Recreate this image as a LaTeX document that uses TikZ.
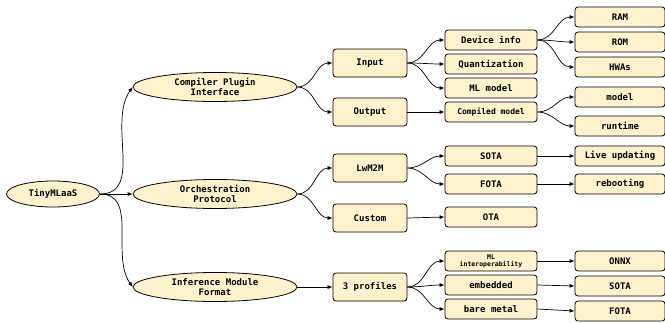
\documentclass[tikz,border=0pt]{standalone}
\usepackage{fontspec}
\setmonofont{DejaVu Sans Mono}
\usetikzlibrary{shapes.geometric,arrows.meta}
\definecolor{boxfill}{HTML}{FFF2CC}
\begin{document}
\begin{tikzpicture}[x=1pt,y=-1pt,
    >={Latex[length=5pt,width=4pt]},
    box/.style={draw, fill=boxfill, rounded corners=3pt, line width=0.8pt, inner sep=0pt,
      align=center, font=\ttfamily\bfseries\fontsize{9}{10}\selectfont},
    oval/.style={box, ellipse, minimum width=164pt, minimum height=29pt, rounded corners=0pt},
    midbox/.style={box, minimum width=74pt, minimum height=28pt},
    subbox/.style={box, minimum width=92pt, minimum height=20pt},
    leafbox/.style={box, minimum width=90pt, minimum height=20pt},
    link/.style={->, line width=0.7pt}]
\useasboundingbox (0,0) rectangle (665,322);

% root and the three parts
\node[oval, minimum width=93pt, minimum height=26pt] (tiny) at (53,194) {TinyMLaaS};
\node[oval] (cpi)  at (215,87)  {Compiler Plugin\\Interface};
\node[oval] (orch) at (215,194) {Orchestration\\Protocol};
\node[oval] (imf)  at (215,287) {Inference Module\\Format};

% second column
\node[midbox] (input)  at (370,63)  {Input};
\node[midbox] (output) at (370,112) {Output};
\node[midbox] (lwm)    at (370,168) {LwM2M};
\node[midbox] (custom) at (370,218) {Custom};
\node[midbox] (prof)   at (370,287) {3 profiles};

% third column
\node[subbox] (dev)   at (491,40)  {Device info};
\node[subbox] (quant) at (491,64)  {Quantization};
\node[subbox] (mlm)   at (491,88)  {ML model};
\node[subbox, font=\ttfamily\bfseries\fontsize{8}{9}\selectfont] (comp) at (491,112) {Compiled model};
\node[subbox] (sota)  at (491,156) {SOTA};
\node[subbox] (fota)  at (491,184) {FOTA};
\node[subbox] (ota)   at (491,217) {OTA};
\node[subbox, font=\ttfamily\bfseries\fontsize{6.5}{7}\selectfont] (mlio) at (491,261) {ML\\interoperability};
\node[subbox] (emb)   at (491,285) {embedded};
\node[subbox] (bare)  at (491,309) {bare metal};

% fourth column
\node[leafbox] (ram)    at (620,17)  {RAM};
\node[leafbox] (rom)    at (620,42)  {ROM};
\node[leafbox] (hwa)    at (620,67)  {HWAs};
\node[leafbox] (mdl)    at (620,97)  {model};
\node[leafbox] (rt)     at (620,126) {runtime};
\node[leafbox] (live)   at (620,156) {Live updating};
\node[leafbox] (reboot) at (620,184) {rebooting};
\node[leafbox] (onnx)   at (620,261) {ONNX};
\node[leafbox] (sota2)  at (620,286) {SOTA};
\node[leafbox] (fota2)  at (620,311) {FOTA};

% connectors
\draw[link] (tiny.east) to[out=0,in=235] (cpi.west);
\draw[link] (tiny.east) -- (orch.west);
\draw[link] (tiny.east) to[out=0,in=125] (imf.west);

\draw[link] (cpi.east) to[out=0,in=180] (input.west);
\draw[link] (cpi.east) to[out=0,in=180] (output.west);
\draw[link] (orch.east) to[out=0,in=180] (lwm.west);
\draw[link] (orch.east) to[out=0,in=180] (custom.west);
\draw[link] (imf.east) -- (prof.west);

\draw[link] (input.east) to[out=0,in=180] (dev.west);
\draw[link] (input.east) to[out=0,in=180] (quant.west);
\draw[link] (input.east) to[out=0,in=180] (mlm.west);
\draw[link] (output.east) -- (comp.west);
\draw[link] (lwm.east) to[out=0,in=180] (sota.west);
\draw[link] (lwm.east) to[out=0,in=180] (fota.west);
\draw[link] (custom.east) -- (ota.west);
\draw[link] (prof.east) to[out=0,in=180] (mlio.west);
\draw[link] (prof.east) to[out=0,in=180] (emb.west);
\draw[link] (prof.east) to[out=0,in=180] (bare.west);

\draw[link] (dev.east) to[out=0,in=180] (ram.west);
\draw[link] (dev.east) to[out=0,in=180] (rom.west);
\draw[link] (dev.east) to[out=0,in=180] (hwa.west);
\draw[link] (comp.east) to[out=0,in=180] (mdl.west);
\draw[link] (comp.east) to[out=0,in=180] (rt.west);
\draw[link] (sota.east) -- (live.west);
\draw[link] (fota.east) -- (reboot.west);
\draw[link] (mlio.east) -- (onnx.west);
\draw[link] (emb.east) -- (sota2.west);
\draw[link] (bare.east) -- (fota2.west);
\end{tikzpicture}
\end{document}
